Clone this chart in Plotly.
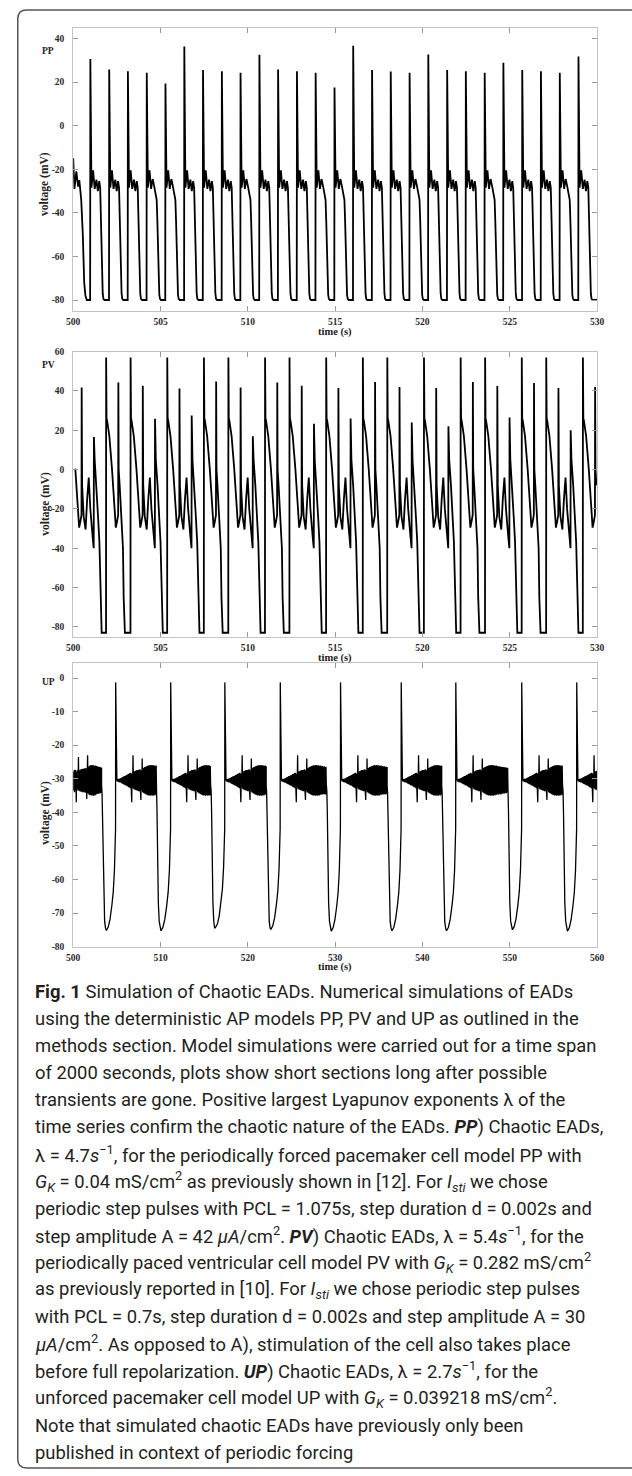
import plotly.graph_objects as go

W, H = 632, 1476

# ---------------- tick labels ----------------
pp_yticks = [-80, -60, -40, -20, 0, 20, 40]
pv_yticks = [-80, -60, -40, -20, 0, 20, 40, 60]
up_yticks = [-80, -70, -60, -50, -40, -30, -20, -10, 0]
pp_xticks = [500, 505, 510, 515, 520, 525, 530]
up_xticks = [500, 510, 520, 530, 540, 550, 560]

# ---------------- PP data ----------------
pp_lead_t = [500.0, 500.07, 500.18, 500.28, 500.35, 500.46, 500.55, 500.63, 500.70, 500.78]
pp_lead_v = [-15, -29, -21, -28, -25, -34, -50, -72, -78, -80]
pp_onset = [500.97, 502.05, 503.12, 504.20, 505.27, 506.35, 507.42, 508.50, 509.57, 510.65,
            511.72, 512.80, 513.87, 514.95, 516.02, 517.10, 518.17, 519.25, 520.32, 521.40,
            522.47, 523.55, 524.62, 525.70, 526.77, 527.85, 528.92, 529.99]
pp_peak = [30.6, 25.8, 24.9, 24.3, 19.3, 36.3, 25.5, 24.9, 24.3, 32.5, 25.8, 24.9, 24.3, 17.5,
           36.7, 25.5, 24.8, 24.3, 32.6, 25.5, 24.9, 24.3, 28.8, 25.5, 24.9, 24.3, 31.7, 24.8]
pp_tail = [0, 0, 0, 1, 1, 0, 0, 0, 1, 0, 0, 0, 1, 1, 0, 0, 0, 1, 0, 0, 0, 1, 0, 0, 0, 1, 0, 0]
# normal beat: three plateau bumps
pp_shape_dt = [0.0, 0.012, 0.075, 0.17, 0.26, 0.36, 0.44, 0.52, 0.575, 0.61, 0.645, 0.68, 0.72, 0.76, 0.82]
pp_shape_v = [-80, None, -28.5, -20.5, -29, -24.8, -30, -25.5, -28.5, -40, -56, -70, -77, -79.5, -80]
# beat with sloping tail before repolarisation
pp_tail_dt = [0.0, 0.012, 0.075, 0.17, 0.26, 0.35, 0.43, 0.51, 0.58, 0.62, 0.655, 0.69, 0.73, 0.77, 0.83]
pp_tail_v = [-80, None, -28.5, -20.5, -29, -24.5, -27.5, -30.5, -34, -44, -58, -71, -77.5, -79.5, -80]

# ---------------- PV data ----------------
pv_big_T = [499.78, 501.88, 503.28, 505.38, 507.48, 508.88, 510.98, 512.38, 514.48, 516.58,
            517.98, 520.08, 522.18, 523.58, 525.68, 527.08, 529.18]
pv_p1 = [41.8, 44.3, 42.6, 41.3, 44.8, 41.8, 44.3, 42.7, 41.5, 44.5, 42.0, 41.5, 44.5, 42.5, 44.0, 41.5, 42.0]
pv_p2 = [16.6, None, 25.8, 27.5, None, 17.0, None, 23.3, 26.0, None, 24.0, 22.0, None, 26.5, None, 20.0, None]
pv_big_dt = [0.0, 0.006, 0.03, 0.06, 0.19, 0.34, 0.47, 0.56, 0.63, 0.695]
pv_big_v = [-83, 57, 26, 25, 17, 0.5, -19.5, -29.5, -26.5, -23]
pv_e2_dt = [0.005, 0.025, 0.08, 0.15, 0.22, 0.27, 0.31, 0.34, 0.38]
pv_e2_v = [None, 0, -8, -22, -31, -40, -65, -80, -83]
pv_e3a_dt = [0.005, 0.03, 0.12, 0.23, 0.32, 0.41, 0.5, 0.58, 0.64, 0.695]
pv_e3a_v = [None, -8, -24, -30.5, -15, -4, -20, -30.5, -35, -40]
pv_e3b_dt = [0.705, 0.75, 0.85, 0.95, 1.02, 1.07, 1.11, 1.15]
pv_e3b_v = [None, 5, -8, -25, -37, -55, -78, -83]

# ---------------- UP data ----------------
up_spike = [504.85, 511.15, 517.35, 523.70, 530.60, 537.55, 543.80, 551.35, 557.65]
up_min = [503.80, 510.05, 516.30, 522.65, 529.55, 536.50, 542.75, 550.30, 556.60]
up_minv = [-75.2, -75.3, -74.3, -74.8, -75.4, -75.3, -75.3, -75.0, -75.4]
up_rise_f = [0.0, 0.2, 0.4, 0.6, 0.75, 0.88, 0.97]
up_rise_v = [0, -1.0, -3.4, -7.5, -11.5, -18.0, -25.0]
up_fall_dt = [-0.55, -0.5, -0.45, -0.38, -0.3, -0.2, -0.1]
up_fall_v = [-32, -34, -40, -55, -67, -72.5, -74.5]
up_osc = [0.3, -0.3, 0.4, -0.4, 0.5, -0.5, 0.5, -0.6, 0.6, -0.6, 0.7, -0.8,
          0.9, -1.0, 1.0, -1.1, 1.2, -1.2, 1.3, -1.4, 1.4, -1.5, 1.6, -1.6, 1.7, -1.8,
          1.9, -2.0, 2.0, -2.1, 2.2, -2.3, 2.3, -2.4,
          -6.5, 2.0, -2.0, 7.5,
          -2.5, 2.6, -2.7, 2.7, -2.8, 2.9, -2.9, 3.0, -3.0, 3.1, -3.1, 3.1, -3.2, 3.2, -3.2, 3.3, -3.3,
          -5.8, 3.0, -3.0, 6.5,
          -3.5, 3.6, -3.7, 3.8, -3.9, 4.0, -4.0, 4.1, -4.2, 4.2, -4.3, 4.3, -4.4, 4.4, -4.5, 4.5,
          -4.4, 4.5, -4.6, 4.5, -4.4, 4.6, -4.5, 4.4, -4.6, 4.5, -4.3, 4.4, -4.5, 4.3, -4.2, 4.4,
          -4.3, 4.2, -4.1, 4.3, -4.2, 4.1, -4.0, 4.2, -4.1, 4.0, -4.2, 4.1, -3.9, 4.0, -4.0, 3.9,
          -3.8, 4.0, -3.9, 3.8, -3.7, 3.9, -3.8, 3.7, -3.6, 3.8, -3.7, 3.6, -3.5, 3.7, -3.6, 3.5,
          -3.6, 3.5, -3.4, 3.6, -3.5, 3.4]
up_lead_osc = [2.5, -3.0, 3.0, -3.5, 3.2, -3.0, 3.0, -6.5, 2.5, -2.5, 3.0, -3.0, 7.0, -3.0,
               3.0, -3.2, 3.2, -3.3, 3.3, -3.4, 3.4, -3.5, 3.5, -3.4, 3.5, -3.6, 3.6, -3.5,
               3.6, -3.7, 3.6, -5.5, 3.0, 7.5, -3.8, 4.0, -4.2, 4.3, -4.4, 4.5, -4.3, 4.4,
               -4.5, 4.6, -4.4, 4.5, -4.6, 4.5, -4.4, 4.3, -4.5, 4.4, -4.2, 4.3, -4.1, 4.2,
               -4.0, 4.1, -4.0, 4.1, -3.9, 4.0, -3.8, 3.9, -3.7, 3.8]
up_base = -30.5
up_step = 0.05

# ---------------- build series ----------------
pp_t, pp_v = list(pp_lead_t), list(pp_lead_v)
for k, t0 in enumerate(pp_onset):
    sdt, sv = (pp_tail_dt, pp_tail_v) if pp_tail[k] else (pp_shape_dt, pp_shape_v)
    for dt, v in zip(sdt, sv):
        if t0 + dt > 530.0:
            break
        pp_t.append(t0 + dt)
        pp_v.append(pp_peak[k] if v is None else v)

pv_t, pv_v = [], []
for k, T in enumerate(pv_big_T):
    for dt, v in zip(pv_big_dt, pv_big_v):
        pv_t.append(T + dt); pv_v.append(v)
    if pv_p2[k] is None:
        for dt, v in zip(pv_e2_dt, pv_e2_v):
            pv_t.append(T + 0.7 + dt); pv_v.append(pv_p1[k] if v is None else v)
    else:
        for dt, v in zip(pv_e3a_dt, pv_e3a_v):
            pv_t.append(T + 0.7 + dt); pv_v.append(pv_p1[k] if v is None else v)
        for dt, v in zip(pv_e3b_dt, pv_e3b_v):
            pv_t.append(T + 0.7 + dt); pv_v.append(pv_p2[k] if v is None else v)
pv_pts = [(t, v) for t, v in zip(pv_t, pv_v) if 500.0 <= t <= 530.0]
pv_t = [p[0] for p in pv_pts]
pv_v = [p[1] for p in pv_pts]

up_t, up_v = [], []
for i, dv in enumerate(up_lead_osc):
    t = 500.0 + i * up_step
    if t > up_min[0] + up_fall_dt[0]:
        break
    up_t.append(t); up_v.append(up_base + dv)
for k in range(len(up_min)):
    m, s = up_min[k], up_spike[k]
    for dt, v in zip(up_fall_dt, up_fall_v):
        up_t.append(m + dt); up_v.append(v)
    up_t.append(m); up_v.append(up_minv[k])
    for f, dv in zip(up_rise_f, up_rise_v):
        up_t.append(m + f * (s - m)); up_v.append(up_minv[k] - dv)
    up_t += [s, s + 0.015, s + 0.06, s + 0.12]
    up_v += [-45, -1.3, -22, -29.5]
    end = up_min[k + 1] + up_fall_dt[0] if k + 1 < len(up_min) else 560.0
    for i, dv in enumerate(up_osc):
        t = s + 0.15 + i * up_step
        if t > end:
            break
        up_t.append(t); up_v.append(up_base + dv)

# ---------------- figure ----------------
fig = go.Figure()
line = dict(color="black", width=1.8)
fig.add_trace(go.Scatter(x=pp_t, y=pp_v, mode="lines", line=line, xaxis="x", yaxis="y"))
fig.add_trace(go.Scatter(x=pv_t, y=pv_v, mode="lines", line=line, xaxis="x2", yaxis="y2"))
fig.add_trace(go.Scatter(x=up_t, y=up_v, mode="lines", line=dict(color="black", width=1.3),
                         xaxis="x3", yaxis="y3"))

x0, x1 = 67.7, 603.5
panels = [(22.7, 308.0, [-85, 45], [500, 530], pp_xticks, pp_yticks),
          (349.0, 636.0, [-85, 60], [500, 530], pp_xticks, pv_yticks),
          (662.4, 948.0, [-80, 4.5], [500, 560], up_xticks, up_yticks)]
tickfont = dict(family="Liberation Serif", size=9.5, color="#2a2a2a", weight="bold")
axstyle = dict(showline=True, mirror="ticks", linecolor="#c4c4c4", linewidth=1,
               ticks="inside", ticklen=5, tickcolor="#9a9a9a", tickwidth=1,
               showgrid=False, zeroline=False, tickfont=tickfont)
lay = {}
for i, (top, bot, yr, xr, xt, yt) in enumerate(panels):
    sfx = "" if i == 0 else str(i + 1)
    lay["xaxis" + sfx] = dict(domain=[x0 / W, x1 / W], range=xr, tickmode="array",
                              tickvals=xt, ticktext=[str(v) for v in xt],
                              anchor="y" + sfx, ticklabelstandoff=2, **axstyle)
    lay["yaxis" + sfx] = dict(domain=[1 - bot / H, 1 - top / H], range=yr, tickmode="array",
                              tickvals=yt, ticktext=[str(v) for v in yt],
                              anchor="x" + sfx, ticklabelstandoff=6, **axstyle)

fig.update_layout(width=W, height=H, margin=dict(l=0, r=0, t=0, b=0),
                  paper_bgcolor="white", plot_bgcolor="white", showlegend=False, **lay)

ann = []
def txt(x, y, s, size=11, family="Liberation Serif", angle=0, xanchor="center", weight="bold", color="#222222"):
    ann.append(dict(x=x / W, y=1 - y / H, xref="paper", yref="paper", text=s, showarrow=False,
                    xanchor=xanchor, yanchor="middle", textangle=angle,
                    font=dict(family=family, size=size, color=color, weight=weight)))

cx = (x0 + x1) / 2
for lbl, ly, ty, vy in [("PP", 46, 329, 180), ("PV", 362, 657, 502), ("UP", 682, 969, 813)]:
    txt(42, ly, lbl, size=9.5)
    txt(cx, ty, "time (s)", size=10.5)
    txt(39, vy, "voltage (mV)", size=11.5, angle=-90)

caption = [
    "<b>Fig. 1</b> Simulation of Chaotic EADs. Numerical simulations of EADs",
    "using the deterministic AP models PP, PV and UP as outlined in the",
    "methods section. Model simulations were carried out for a time span",
    "of 2000 seconds, plots show short sections long after possible",
    "transients are gone. Positive largest Lyapunov exponents λ of the",
    "time series confirm the chaotic nature of the EADs. <b><i>PP</i></b>) Chaotic EADs,",
    "λ = 4.7<i>s</i><sup>−1</sup>, for the periodically forced pacemaker cell model PP with",
    "<i>G<sub>K</sub></i> = 0.04 mS/cm<sup>2</sup> as previously shown in [12]. For <i>I<sub>sti</sub></i> we chose",
    "periodic step pulses with PCL = 1.075s, step duration d = 0.002s and",
    "step amplitude A = 42 <i>μA</i>/cm<sup>2</sup>. <b><i>PV</i></b>) Chaotic EADs, λ = 5.4<i>s</i><sup>−1</sup>, for the",
    "periodically paced ventricular cell model PV with <i>G<sub>K</sub></i> = 0.282 mS/cm<sup>2</sup>",
    "as previously reported in [10]. For <i>I<sub>sti</sub></i> we chose periodic step pulses",
    "with PCL = 0.7s, step duration d = 0.002s and step amplitude A = 30",
    "<i>μA</i>/cm<sup>2</sup>. As opposed to A), stimulation of the cell also takes place",
    "before full repolarization. <b><i>UP</i></b>) Chaotic EADs, λ = 2.7<i>s</i><sup>−1</sup>, for the",
    "unforced pacemaker cell model UP with <i>G<sub>K</sub></i> = 0.039218 mS/cm<sup>2</sup>.",
    "Note that simulated chaotic EADs have previously only been",
    "published in context of periodic forcing",
]
for i, s in enumerate(caption):
    txt(27, 993 + i * 27.3, s, size=18.4, family="Roboto", xanchor="left", weight="normal",
        color="#231f20")

fig.update_layout(annotations=ann)

# frame
fx0, fy0, fy1, r = 11, 5, 1473, 9
path = (f"M {700/W},{1-fy0/H} L {(fx0+r)/W},{1-fy0/H} Q {fx0/W},{1-fy0/H} {fx0/W},{1-(fy0+r)/H} "
        f"L {fx0/W},{1-(fy1-r)/H} Q {fx0/W},{1-fy1/H} {(fx0+r)/W},{1-fy1/H} L {700/W},{1-fy1/H}")
fig.add_shape(type="path", path=path, xref="paper", yref="paper",
              line=dict(color="#555555", width=1.5))

fig.write_html("out.html")
